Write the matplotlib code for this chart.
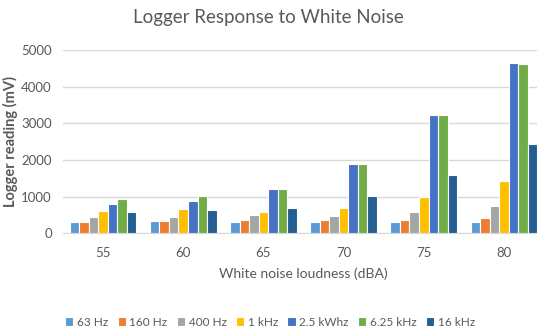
import numpy as np
import matplotlib
matplotlib.use("Agg")
import matplotlib.pyplot as plt

# ---------- data ----------
loudness = ["55", "60", "65", "70", "75", "80"]
series_names = ["63 Hz", "160 Hz", "400 Hz", "1 kHz", "2.5 kWhz", "6.25 kHz", "16 kHz"]
hz63 = [320, 330, 320, 320, 320, 320]
hz160 = [320, 330, 350, 370, 370, 430]
hz400 = [440, 440, 490, 480, 570, 740]
khz1 = [620, 660, 570, 700, 1000, 1430]
khz25 = [810, 880, 1220, 1880, 3230, 4640]
khz625 = [940, 1030, 1220, 1880, 3230, 4620]
khz16 = [590, 640, 700, 1030, 1580, 2430]
colors = ["#5B9BD5", "#ED7D31", "#A5A5A5", "#FFC000", "#4472C4", "#70AD47", "#255E91"]

series = [hz63, hz160, hz400, khz1, khz25, khz625, khz16]

plt.rcParams["font.family"] = ["Lato", "DejaVu Sans"]
GREY = "#595959"

fig = plt.figure(figsize=(5.37, 3.29), dpi=100)
# axes runs a little past the right edge, like the cropped original
ax = fig.add_axes([63 / 537, 95.7 / 329, 481 / 537, 183.3 / 329])

x = np.arange(len(loudness))
slot = 0.119
for i, (vals, name, c) in enumerate(zip(series, series_names, colors)):
    off = (i - 3) * slot
    ax.bar(x + off, vals, width=slot, color=c, edgecolor="white",
           linewidth=0.8, label=name, zorder=3)

ax.set_xlim(-0.5, len(loudness) - 0.5)
ax.set_ylim(0, 5000)
ax.set_yticks(range(0, 5001, 1000))
ax.set_xticks(x)
ax.set_xticklabels(loudness)
ax.grid(axis="y", color="#D9D9D9", linewidth=1, zorder=0)
for s in ["left", "right", "top"]:
    ax.spines[s].set_visible(False)
ax.spines["bottom"].set_color("#D9D9D9")
ax.tick_params(length=0, colors=GREY, labelsize=9.5)
ax.tick_params(axis="x", pad=10)
ax.tick_params(axis="y", pad=8)

ax.set_xlabel("White noise loudness (dBA)", color=GREY, fontsize=10, labelpad=6)
ax.set_ylabel("Logger reading (mV)", color=GREY, fontsize=10.5, fontweight="bold")
ax.yaxis.set_label_coords(-0.093, 0.5)
fig.text(268 / 537, 1 - 17 / 329, "Logger Response to White Noise",
         ha="center", va="center", fontsize=13.5, color=GREY)

fig.legend(loc="center", bbox_to_anchor=(270 / 537, 1 - 322 / 329), ncol=7,
           frameon=False, fontsize=8.5, handlelength=0.7, handleheight=0.7,
           handletextpad=0.3, columnspacing=0.8, labelcolor=GREY)

fig.savefig("out.png", dpi=100)
